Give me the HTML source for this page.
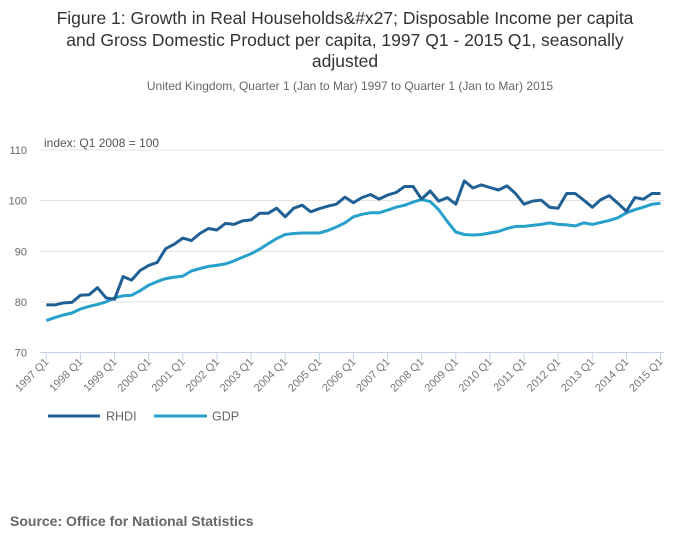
<!DOCTYPE html>
<html><head><meta charset="utf-8"><style>
body{margin:0;background:#fff;width:700px;height:549px;overflow:hidden;font-family:"Liberation Sans","DejaVu Sans",sans-serif}
</style></head><body>
<svg width="700" height="549" xmlns="http://www.w3.org/2000/svg" font-family="Liberation Sans, DejaVu Sans, sans-serif">
<g fill="#333" font-size="17.5" text-anchor="middle">
<text x="345" y="24">Figure 1: Growth in Real Households&amp;#x27; Disposable Income per capita</text>
<text x="345" y="46">and Gross Domestic Product per capita, 1997 Q1 - 2015 Q1, seasonally</text>
<text x="345" y="67">adjusted</text>
</g>
<text x="350" y="90" font-size="12" fill="#666" text-anchor="middle">United Kingdom, Quarter 1 (Jan to Mar) 1997 to Quarter 1 (Jan to Mar) 2015</text>
<text x="44" y="147" font-size="12" fill="#555">index: Q1 2008 = 100</text>
<g id="grid"></g><g id="xaxis"></g><g id="lines"></g>
<g>
<line x1="48" y1="416" x2="100" y2="416" stroke="#206095" stroke-width="3"/>
<text x="106" y="420.5" font-size="12.5" fill="#666">RHDI</text>
<line x1="154" y1="416" x2="207" y2="416" stroke="#27a0cc" stroke-width="3"/>
<text x="212" y="420.5" font-size="12.5" fill="#666">GDP</text>
</g>
<text x="10" y="526" font-size="14" font-weight="bold" fill="#666">Source: Office for National Statistics</text>
</svg>
<script>
const years=[1997,1998,1999,2000,2001,2002,2003,2004,2005,2006,2007,2008,2009,2010,2011,2012,2013,2014,2015];
const yTicks=[70,80,90,100,110];
const rhdi=[79.4,79.4,79.8,79.9,81.3,81.4,82.8,80.8,80.5,85.0,84.3,86.2,87.2,87.8,90.5,91.4,92.6,92.1,93.5,94.5,94.2,95.5,95.3,96.0,96.2,97.5,97.5,98.5,96.8,98.5,99.1,97.8,98.4,98.9,99.3,100.7,99.6,100.6,101.2,100.3,101.1,101.6,102.8,102.8,100.3,101.9,99.9,100.6,99.3,103.9,102.5,103.1,102.6,102.1,102.9,101.4,99.3,99.9,100.1,98.7,98.5,101.4,101.4,100.1,98.7,100.2,101.0,99.5,97.9,100.6,100.3,101.4,101.4];
const gdp=[76.3,76.9,77.4,77.8,78.6,79.1,79.5,80.0,80.8,81.2,81.3,82.2,83.3,84.0,84.6,84.9,85.1,86.1,86.6,87.0,87.2,87.5,88.1,88.8,89.5,90.4,91.5,92.5,93.3,93.5,93.6,93.6,93.6,94.1,94.8,95.6,96.8,97.3,97.6,97.6,98.1,98.7,99.1,99.7,100.2,99.8,98.2,95.9,93.8,93.3,93.2,93.3,93.6,93.9,94.5,94.9,94.9,95.1,95.3,95.6,95.3,95.2,95.0,95.6,95.3,95.7,96.1,96.6,97.6,98.2,98.7,99.3,99.5];
const NS="http://www.w3.org/2000/svg";
const x0=46.3,x1=660.5,yTop=150,yBot=352.5;
const X=i=>x0+(x1-x0)*i/72;
const Y=v=>yBot-(v-70)*(yBot-yTop)/40;
function mk(t,a,p){const e=document.createElementNS(NS,t);for(const k in a)e.setAttribute(k,a[k]);p.appendChild(e);return e;}
const grid=document.getElementById('grid');
yTicks.forEach(v=>{
  if(v>70){const l=mk('line',{x1:40,x2:664,y1:Y(v),y2:Y(v),stroke:'#e0e0e0','stroke-width':1},grid);
  
  }
  const t=mk('text',{x:27,y:Y(v)+4,'font-size':11,fill:'#666','text-anchor':'end'},grid);
  t.textContent=v;
  
  
});
const xa=document.getElementById('xaxis');
const ax=mk('line',{x1:40,x2:664,y1:yBot,y2:yBot,stroke:'#c6d3e6','stroke-width':1},xa);


years.forEach((yr,j)=>{
  const x=X(j*4);
  const tk=mk('line',{x1:x,x2:x,y1:yBot,y2:yBot+8,stroke:'#c6d3e6'},xa);
  
  
  const t=mk('text',{x:x+3,y:yBot+10,'font-size':11,fill:'#777','text-anchor':'end',transform:'rotate(-45 '+(x+3)+' '+(yBot+10)+')'},xa);
  t.textContent=yr+' Q1';
  
  
});
const lg=document.getElementById('lines');
[[gdp,'#27a0cc','gdp-line'],[rhdi,'#206095','rhdi-line']].forEach(([d,c,n])=>{
  const p=mk('polyline',{points:d.map((v,i)=>X(i).toFixed(1)+','+Y(v).toFixed(1)).join(' '),fill:'none',stroke:c,'stroke-width':3,'stroke-linejoin':'round'},lg);
  
  
});
</script>
</body></html>
